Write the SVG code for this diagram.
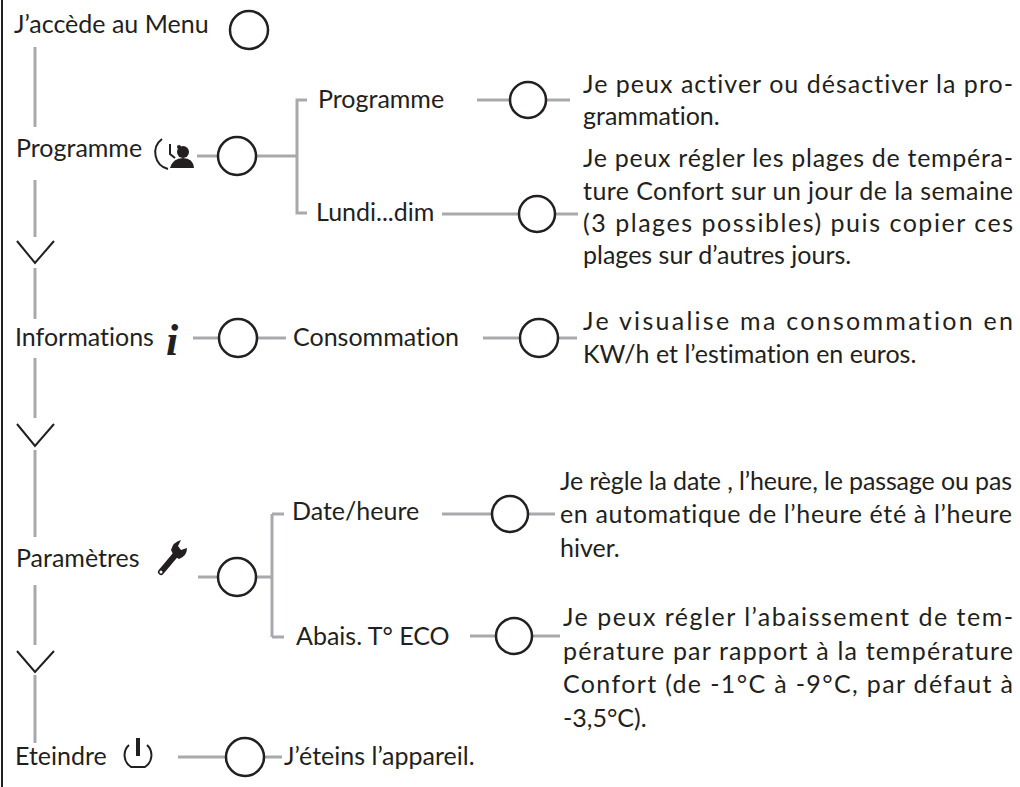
<svg xmlns="http://www.w3.org/2000/svg" width="1020" height="787" viewBox="0 0 1020 787">
<style>
text{font-family:Lato,"Liberation Sans",sans-serif;font-size:25px;fill:#231f20;font-variant-ligatures:none}
.g{stroke:#a7a9ac;stroke-width:3;fill:none}
.c{stroke:#231f20;stroke-width:2.5;fill:#fff}
.k{stroke:#231f20;stroke-width:2;fill:none}
</style>
<rect width="1020" height="787" fill="#fff"/>
<line x1="2" y1="0" x2="2" y2="787" stroke="#231f20" stroke-width="2"/>
<g id="connectors">
<path class="g" d="M35 47V127M35 180V237M35 268V319M35 358V418M35 450V537M35 585V645M35 675V743"/>
<path class="k" d="M17 241L35 263L54 241M17 424L35 446L54 424M17 651L35 672L54 651"/>
<path class="g" d="M197 156H218M256 156H297M307 100H297V213H307M477 100H510M546 100H570M442 214H519M555 214H578"/>
<path class="g" d="M193 338H219M257 338H286M483 338H520M558 338H577"/>
<path class="g" d="M198 577H218M256 577H272M272 514V637M272 514H284M272 637H284M442 514H492M528 514H555M470 636H496M532 636H560"/>
<path class="g" d="M178 757H226M264 757H282"/>
</g>
<g id="menu"><text x="14" y="33">J’accède au Menu</text><circle class="c" cx="249" cy="30" r="19"/></g>
<g id="programme"><text x="16" y="157">Programme</text>
<path d="M162 139a17 17 0 0 0 6 30" class="k" stroke-width="3"/><path d="M170 144v10l5 4" class="k" stroke-width="2.5"/><circle cx="179" cy="147" r="2" fill="#231f20"/><circle cx="183" cy="152" r="6" fill="#231f20"/><path d="M170 168q3-10 13-10t11 10z" fill="#231f20"/>
<circle class="c" cx="237" cy="156" r="19"/></g>
<g id="prog-sub"><text x="318" y="108">Programme</text><circle class="c" cx="528" cy="100" r="18"/>
<text x="583" y="93" textLength="430" lengthAdjust="spacing">Je peux activer ou désactiver la pro-</text><text x="583" y="125">grammation.</text></g>
<g id="lundi"><text x="316" y="221">Lundi...dim</text><circle class="c" cx="537" cy="214" r="18"/>
<text x="583" y="167" textLength="430" lengthAdjust="spacing">Je peux régler les plages de tempéra-</text>
<text x="583" y="200" textLength="430" lengthAdjust="spacing">ture Confort sur un jour de la semaine</text>
<text x="583" y="232" textLength="430" lengthAdjust="spacing">(3 plages possibles) puis copier ces</text>
<text x="583" y="264">plages sur d’autres jours.</text></g>
<g id="informations"><text x="15" y="346">Informations</text><text x="166" y="355" style="font-family:'Liberation Serif',serif;font-style:italic;font-weight:bold;font-size:44px">i</text>
<circle class="c" cx="238" cy="338" r="19"/></g>
<g id="conso"><text x="293" y="346">Consommation</text><circle class="c" cx="539" cy="338" r="19"/>
<text x="583" y="330" textLength="430" lengthAdjust="spacing">Je visualise ma consommation en</text><text x="583" y="363">KW/h et l’estimation en euros.</text></g>
<g id="parametres"><text x="16" y="567">Paramètres</text>
<path d="M161 572L177 553" stroke="#231f20" stroke-width="6" stroke-linecap="round"/><circle cx="161" cy="572" r="1.5" fill="#fff"/>
<path d="M174 556l-3-6q2-8 10-10l-3 6 3 4 6-2q0 8-8 11z" fill="#231f20"/>
<circle class="c" cx="237" cy="577" r="19"/></g>
<g id="date"><text x="292" y="520">Date/heure</text><circle class="c" cx="510" cy="514" r="18"/>
<text x="560" y="490" textLength="452" lengthAdjust="spacing">Je règle la date , l’heure, le passage ou pas</text>
<text x="560" y="523" textLength="452" lengthAdjust="spacing">en automatique de l’heure été à l’heure</text>
<text x="560" y="557">hiver.</text></g>
<g id="abais"><text x="296" y="645">Abais. T° ECO</text><circle class="c" cx="514" cy="636" r="18"/>
<text x="563" y="626" textLength="450" lengthAdjust="spacing">Je peux régler l’abaissement de tem-</text>
<text x="563" y="660" textLength="450" lengthAdjust="spacing">pérature par rapport à la température</text>
<text x="563" y="693" textLength="450" lengthAdjust="spacing">Confort (de -1°C à -9°C, par défaut à</text>
<text x="563" y="727">-3,5°C).</text></g>
<g id="eteindre"><text x="15" y="765">Eteindre</text>
<path d="M129 745a14 14 0 0 0 2 22h14a14 14 0 0 0 2-22" class="k" stroke-width="4" stroke-linejoin="round"/><line x1="138" y1="738" x2="138" y2="756" stroke="#231f20" stroke-width="4"/>
<circle class="c" cx="245" cy="757" r="19"/><text x="284" y="765">J’éteins l’appareil.</text></g>
</svg>
